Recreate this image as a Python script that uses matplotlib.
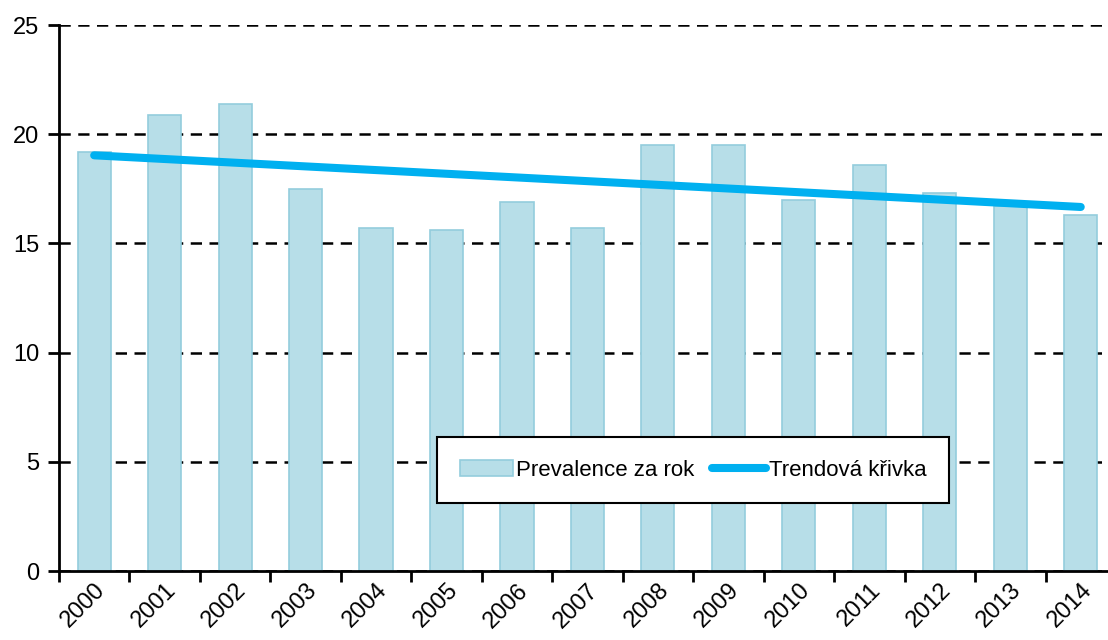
import numpy as np
import matplotlib.pyplot as plt
from matplotlib.ticker import FixedLocator

# data
years = ["2000", "2001", "2002", "2003", "2004", "2005", "2006", "2007",
         "2008", "2009", "2010", "2011", "2012", "2013", "2014"]
prevalence = [19.2, 20.9, 21.4, 17.5, 15.7, 15.6, 16.9, 15.7,
              19.5, 19.5, 17.0, 18.6, 17.3, 16.7, 16.3]
y_ticks = [0, 5, 10, 15, 20, 25]

plt.rcParams['font.family'] = ['Liberation Sans', 'DejaVu Sans']

x = np.arange(len(years))
# linear trend (like excel's trend line)
k, q = np.polyfit(x, prevalence, 1)
trend = k * x + q

fig = plt.figure(figsize=(11.08, 6.40), dpi=100)
ax = fig.add_axes([0.0532, 0.1078, 0.954, 0.853])

bars = ax.bar(x, prevalence, width=0.47, color="#b7dee8", edgecolor="#93cddd",
              linewidth=1.2, label="Prevalence za rok", zorder=2)
line, = ax.plot(x, trend, color="#00b0f0", linewidth=5.8, solid_capstyle="round",
                label="Trendová křivka", zorder=3)

ax.set_xlim(-0.5, len(years) - 0.5)
ax.set_ylim(0, 25)
ax.set_yticks(y_ticks)
ax.yaxis.grid(True, color="black", linestyle=(0, (4.5, 3.0)), linewidth=1.8, zorder=1)
ax.set_axisbelow(True)

ax.set_xticks(x)
ax.set_xticklabels(years, rotation=45, ha="right", rotation_mode="anchor")
ax.xaxis.set_minor_locator(FixedLocator(np.arange(-0.5, len(years), 1.0)))
ax.tick_params(axis="x", which="major", length=0, pad=6, labelsize=17)
ax.tick_params(axis="x", which="minor", length=8, width=2, direction="out")
ax.tick_params(axis="y", length=8, width=2, labelsize=17, pad=6)

for s in ["top", "right"]:
    ax.spines[s].set_visible(False)
for s in ["left", "bottom"]:
    ax.spines[s].set_linewidth(2)

leg = ax.legend([bars, line], ["Prevalence za rok", "Trendová křivka"],
                loc="center", bbox_to_anchor=(0.60, 0.185), ncol=2, fontsize=16,
                frameon=True, fancybox=False, edgecolor="black", framealpha=1,
                handlelength=2.4, handleheight=0.7, columnspacing=0.8,
                borderpad=1.0, handletextpad=0.15, borderaxespad=0)
leg.get_frame().set_linewidth(1.5)

fig.savefig("out.png", dpi=100)
